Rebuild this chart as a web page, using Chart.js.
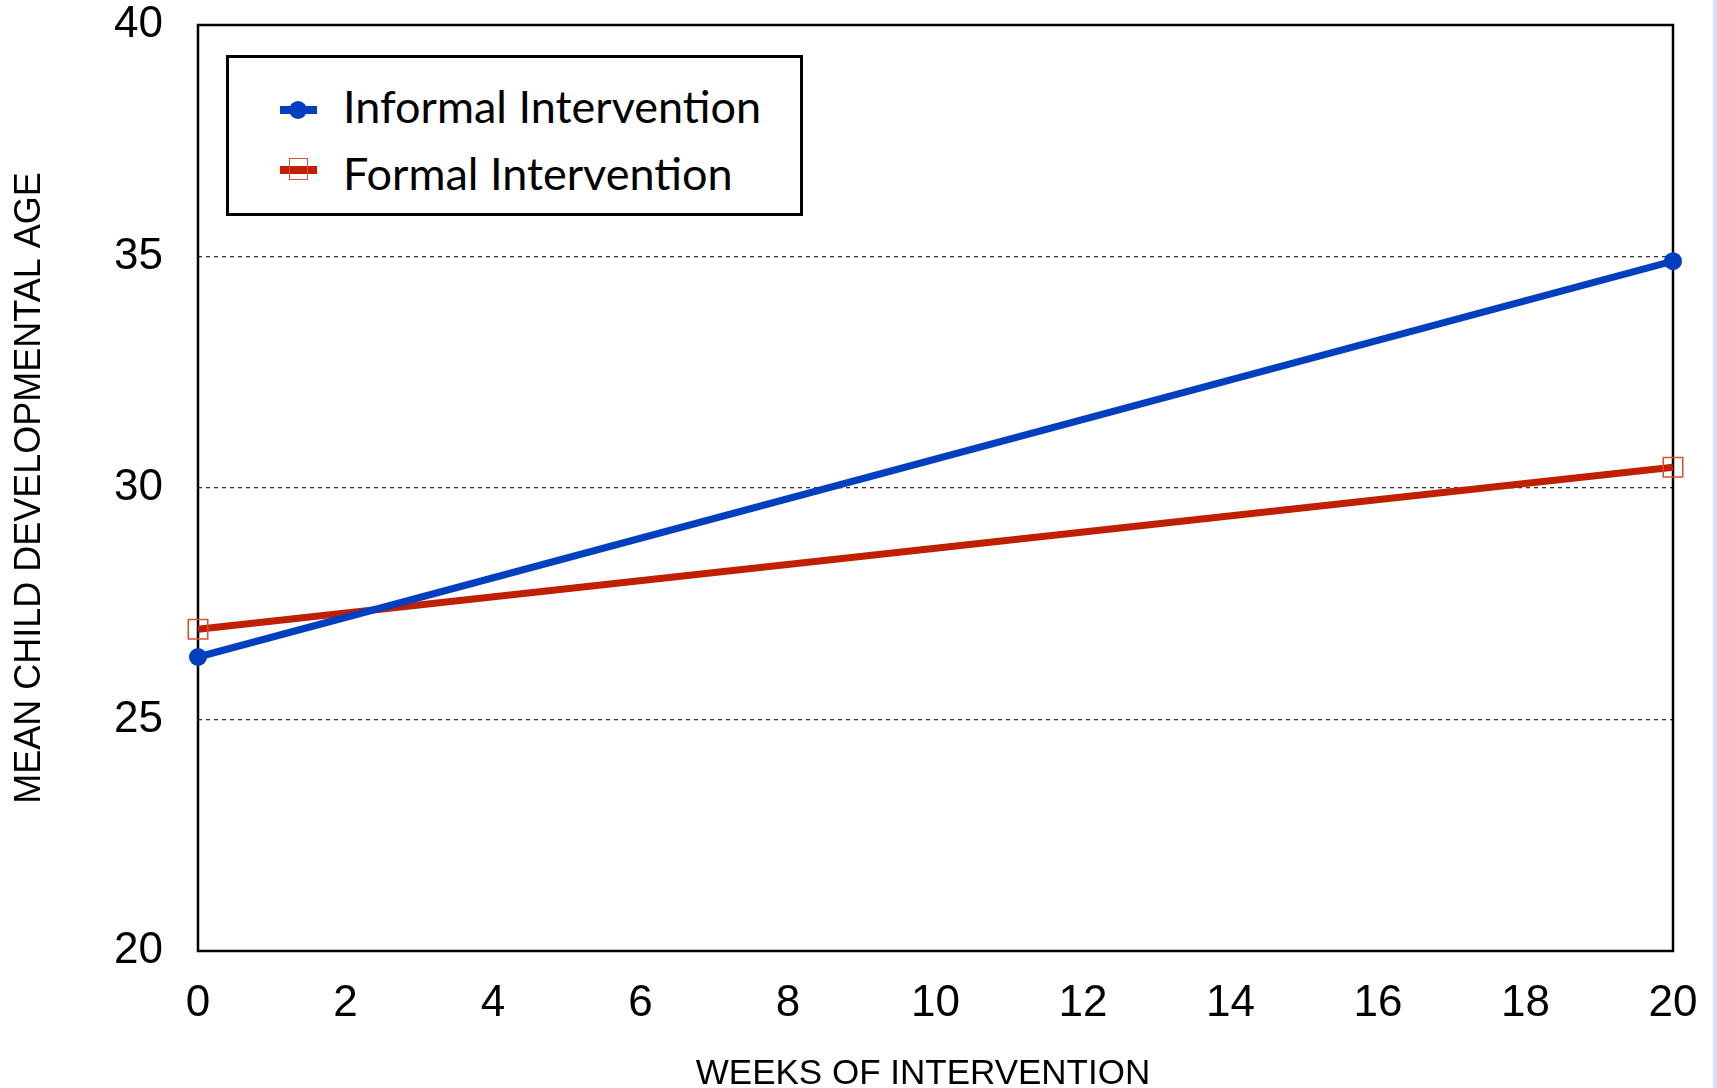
<!DOCTYPE html>
<html>
<head>
<meta charset="utf-8">
<script src="https://cdn.jsdelivr.net/npm/chart.js@4/dist/chart.umd.min.js"></script>
<style>
  html, body { margin: 0; padding: 0; background: #fff; }
  #wrap { position: relative; width: 1717px; height: 1088px; overflow: hidden; }
  #c { position: absolute; left: 0; top: 0; }
  #edge { position: absolute; left: 1713px; top: 0; width: 4px; height: 1088px; background: #d3e3f6; }
  #legend { position: absolute; left: 226px; top: 55px; width: 571px; height: 155px;
            border: 3px solid #000; background: #fff; box-sizing: content-box; }
  .ln, .pt, .lbl { position: absolute; box-sizing: border-box; }
  .lbl { left: 114px; height: 54px; line-height: 54px; font-family: Lato, "Open Sans", sans-serif;
         font-size: 45px; color: #000; white-space: nowrap; }
</style>
</head>
<body>
<div id="wrap">
  <canvas id="c" width="1717" height="1088"></canvas>
  <div id="legend"></div>
  <div id="edge"></div>
</div>
<script>
// ---- data ----
const weeks = [0, 20];
const informalValues = [26.35, 34.9];
const formalValues = [26.95, 30.45];
const seriesNames = ["Informal Intervention", "Formal Intervention"];
const xTickValues = [0, 2, 4, 6, 8, 10, 12, 14, 16, 18, 20];
const yTickValues = [20, 25, 30, 35, 40];
const xTitle = "WEEKS OF INTERVENTION";
const yTitle = "MEAN CHILD DEVELOPMENTAL AGE";

const BLUE = "#0040C0";
const RED = "#C02000";
const RED_PT = "#D8502E";
const FONT = "'Liberation Sans', Arial, sans-serif";

function toPoints(xs, ys) { return xs.map((x, i) => ({ x: x, y: ys[i] })); }

// frame around the plot area
const framePlugin = {
  id: "frame",
  beforeDatasetsDraw(chart) {
    const a = chart.chartArea, ctx = chart.ctx;
    ctx.save();
    ctx.setLineDash([]);
    ctx.lineWidth = 2.5;
    ctx.strokeStyle = "#000";
    ctx.strokeRect(a.left, a.top, a.right - a.left, a.bottom - a.top);
    ctx.restore();
  }
};
// x axis title, placed as in the original (slightly left of the plot centre)
const xTitlePlugin = {
  id: "xTitleText",
  afterDraw(chart) {
    const ctx = chart.ctx;
    ctx.save();
    ctx.font = "35px " + FONT;
    ctx.fillStyle = "#000";
    ctx.textAlign = "center";
    ctx.textBaseline = "alphabetic";
    ctx.fillText(xTitle, 923, 1084);
    ctx.restore();
  }
};

const tickFont = { family: FONT, size: 44, lineHeight: 1.0 };

new Chart(document.getElementById("c"), {
  type: "scatter",
  data: {
    datasets: [
      {
        label: seriesNames[0],
        data: toPoints(weeks, informalValues),
        showLine: true,
        borderColor: BLUE,
        backgroundColor: BLUE,
        borderWidth: 7,
        pointStyle: "circle",
        pointRadius: 9,
        pointBorderWidth: 0,
        pointBackgroundColor: BLUE,
        clip: false
      },
      {
        label: seriesNames[1],
        data: toPoints(weeks, formalValues),
        showLine: true,
        borderColor: RED,
        backgroundColor: "rgba(0,0,0,0)",
        borderWidth: 7,
        pointStyle: "rect",
        pointRadius: 13.8,
        pointBorderWidth: 1.5,
        pointBorderColor: RED_PT,
        pointBackgroundColor: "rgba(0,0,0,0)",
        clip: false
      }
    ]
  },
  options: {
    responsive: false,
    animation: false,
    events: [],
    layout: { padding: { left: 0, top: 25, right: 44, bottom: 0 } },
    plugins: { legend: { display: false }, tooltip: { enabled: false } },
    scales: {
      x: {
        type: "linear",
        min: 0, max: 20,
        afterBuildTicks(scale) { scale.ticks = xTickValues.map(v => ({ value: v })); },
        afterFit(scale) { scale.height = 137; scale.paddingLeft = 0; scale.paddingRight = 0; },
        grid: { display: false, drawTicks: false },
        border: { display: false },
        ticks: { font: tickFont, color: "#000", padding: 31, maxRotation: 0, autoSkip: false }
      },
      y: {
        type: "linear",
        min: 20, max: 40,
        afterBuildTicks(scale) { scale.ticks = yTickValues.map(v => ({ value: v })); },
        afterFit(scale) { scale.width = 198; scale.paddingTop = 0; scale.paddingBottom = 0; },
        grid: {
          drawTicks: false,
          lineWidth: 1.3,
          color: (ctx) => (ctx.tick && (ctx.tick.value === 20 || ctx.tick.value === 40)) ? "rgba(0,0,0,0)" : "#333"
        },
        border: { display: false, dash: [4, 4] },
        ticks: { font: tickFont, color: "#000", padding: 35, autoSkip: false },
        title: {
          display: true,
          text: yTitle,
          color: "#000",
          font: { family: FONT, size: 36 },
          padding: { top: 8, bottom: 0 }
        }
      }
    }
  },
  plugins: [framePlugin, xTitlePlugin]
});

// HTML legend built from the series names
const legend = document.getElementById("legend");
function addBox(cls, css) {
  const d = document.createElement("div");
  d.className = cls;
  d.style.cssText = css;
  legend.appendChild(d);
  return d;
}
// row 1: blue line with filled dot
addBox("ln", "left:51px;top:48px;width:37px;height:8px;background:" + BLUE + ";");
addBox("pt", "left:60px;top:43px;width:18px;height:18px;border-radius:50%;background:" + BLUE + ";");
addBox("lbl", "top:21px;").textContent = seriesNames[0];
// row 2: red line with open square
addBox("ln", "left:51px;top:108px;width:37px;height:8px;background:" + RED + ";");
addBox("pt", "left:60px;top:100px;width:19px;height:22px;border:1.5px solid " + RED_PT + ";");
addBox("lbl", "top:88px;").textContent = seriesNames[1];
</script>
</body>
</html>
